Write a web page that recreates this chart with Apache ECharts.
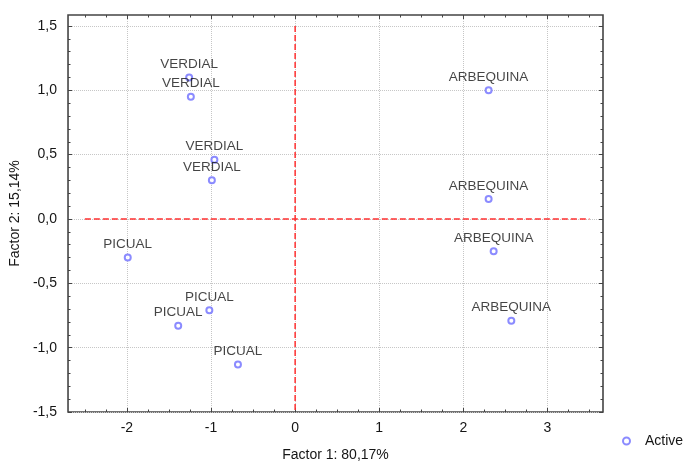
<!DOCTYPE html>
<html>
<head>
<meta charset="utf-8">
<script src="https://cdn.jsdelivr.net/npm/echarts@6/dist/echarts.min.js"></script>
<style>
html,body{margin:0;padding:0;background:#fff;}
#chart{width:686px;height:467px;}
</style>
</head>
<body>
<div id="chart"></div>
<script>
// Data
const cultivars = ['VERDIAL','VERDIAL','VERDIAL','VERDIAL',
                   'PICUAL','PICUAL','PICUAL','PICUAL',
                   'ARBEQUINA','ARBEQUINA','ARBEQUINA','ARBEQUINA'];
const factor1 = [-1.26,-1.24,-0.96,-0.99, -1.99,-1.02,-1.39,-0.68, 2.30,2.30,2.36,2.57];
const factor2 = [ 1.10, 0.95, 0.46, 0.30, -0.30,-0.71,-0.83,-1.13, 1.00,0.155,-0.25,-0.79];
const xMajorTicks = [-2,-1,0,1,2,3];
const xMinorTicks = [-2.5,-2.25,-1.75,-1.5,-1.25,-0.75,-0.5,-0.25,0.25,0.5,0.75,1.25,1.5,1.75,2.25,2.5,2.75,3.25,3.5];
const yMajorTicks = [-1.5,-1,-0.5,0,0.5,1,1.5];
const yMinorTicks = [-1.4,-1.3,-1.2,-1.1,-0.9,-0.8,-0.7,-0.6,-0.4,-0.3,-0.2,-0.1,0.1,0.2,0.3,0.4,0.6,0.7,0.8,0.9,1.1,1.2,1.3,1.4];
const hRefLine = [[-2.5,0],[3.5,0]];
const vRefLine = [[0,1.5],[0,-1.5]];
const xName = 'Factor 1: 80,17%';
const yName = 'Factor 2: 15,14%';
const seriesName = 'Active';

const X_MIN = -2.7, X_MAX = 3.66, Y_MIN = -1.5, Y_MAX = 1.585;
const FONT = '"Liberation Sans", Arial, sans-serif';
const tickColor = '#444';
const textColor = '#151515';

function commaFmt(v){ return (Math.round(v*10)/10).toFixed(1).replace('.', ','); }

function xAx(pos, ticks, len, extra){
  return Object.assign({
    type:'value', position:pos, min:X_MIN, max:X_MAX,
    axisLine:{show:false, onZero:false},
    axisTick:{show:true, inside:true, length:len, customValues:ticks, lineStyle:{color:tickColor, width:1}},
    axisLabel:{show:false},
    splitLine:{show:false}
  }, extra||{});
}
function yAx(pos, ticks, len, extra){
  return Object.assign({
    type:'value', position:pos, min:Y_MIN, max:Y_MAX,
    axisLine:{show:false, onZero:false},
    axisTick:{show:true, inside:true, length:len, customValues:ticks, lineStyle:{color:tickColor, width:1}},
    axisLabel:{show:false},
    splitLine:{show:false}
  }, extra||{});
}

const points = factor1.map((x,i)=>({value:[x, factor2[i]], name:cultivars[i]}));

const option = {
  animation:false,
  backgroundColor:'#fff',
  textStyle:{fontFamily:FONT},
  grid:{left:67, right:83, top:15, bottom:52, show:true, borderColor:'#444', borderWidth:1.6, backgroundColor:'transparent'},
  legend:{
    data:[seriesName], left:617, top:429, itemWidth:7, itemHeight:7, itemGap:10,
    textStyle:{fontFamily:FONT, fontSize:14, color:textColor, padding:[0,0,0,10]}
  },
  xAxis:[
    xAx('bottom', xMajorTicks, 4, {
      axisLabel:{show:true, customValues:xMajorTicks, margin:9, fontSize:14, color:textColor, fontFamily:FONT},
      splitLine:{show:true, lineStyle:{type:'dotted', color:'#c6c6c6', width:1}},
      name:xName, nameLocation:'middle', nameGap:36,
      nameTextStyle:{fontSize:14, color:textColor, fontFamily:FONT}
    }),
    xAx('bottom', xMinorTicks, 2.5),
    xAx('top', xMajorTicks, 4),
    xAx('top', xMinorTicks, 2.5)
  ],
  yAxis:[
    yAx('left', yMajorTicks, 4, {
      axisLabel:{show:true, customValues:yMajorTicks, margin:11, fontSize:14, color:textColor, fontFamily:FONT, formatter:commaFmt},
      splitLine:{show:true, lineStyle:{type:'dotted', color:'#c6c6c6', width:1}},
      name:yName, nameLocation:'middle', nameGap:42,
      nameTextStyle:{fontSize:14, color:textColor, fontFamily:FONT}
    }),
    yAx('left', yMinorTicks, 2.5),
    yAx('right', yMajorTicks, 4),
    yAx('right', yMinorTicks, 2.5)
  ],
  series:[
    {
      type:'line', name:'h0', data:hRefLine, symbol:'none', silent:true,
      lineStyle:{color:'#ff3030', width:1.5, type:[6,3]}, z:1
    },
    {
      type:'line', name:'v0', data:vRefLine, symbol:'none', silent:true,
      lineStyle:{color:'#ff3030', width:1.5, type:[6,3]}, z:1
    },
    {
      type:'scatter', name:seriesName, data:points,
      symbol:'emptyCircle', symbolSize:6,
      itemStyle:{color:'#6e6eff', borderColor:'#6e6eff', borderWidth:1},
      label:{show:true, position:'top', distance:2, formatter:p=>p.name,
             fontFamily:FONT, fontSize:13.5, color:textColor},
      labelLayout:{hideOverlap:false},
      z:3
    }
  ]
};

const chart = echarts.init(document.getElementById('chart'), null, {renderer:'canvas'});
chart.setOption(option);
</script>
</body>
</html>
